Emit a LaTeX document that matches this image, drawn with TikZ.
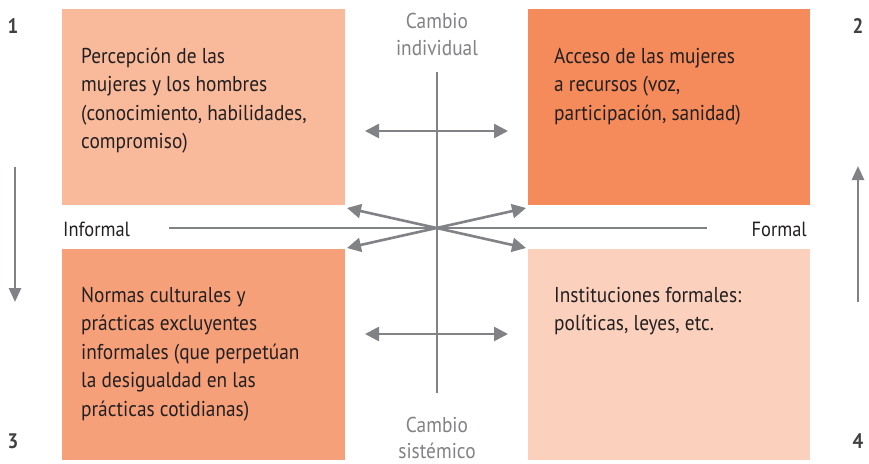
\documentclass[tikz,border=0pt]{standalone}
\usepackage{fontspec}
\setmainfont[FakeStretch=0.9]{PT Sans}
\usetikzlibrary{arrows.meta}
\definecolor{boxA}{RGB}{249,186,155}
\definecolor{boxB}{RGB}{245,139,90}
\definecolor{boxC}{RGB}{246,160,122}
\definecolor{boxD}{RGB}{251,208,188}
\definecolor{axisgray}{RGB}{128,130,133}
\definecolor{txt}{RGB}{35,31,32}
\definecolor{numgray}{RGB}{64,64,65}
\tikzset{
  boxtext/.style={inner sep=0pt, anchor=base west, align=left, text=txt, font=\fontsize{21.5}{28.6}\selectfont},
  axislbl/.style={inner sep=0pt, text=axisgray, font=\fontsize{21.5}{27}\selectfont},
  sidelbl/.style={inner sep=0pt, text=txt, font=\fontsize{20.5}{27}\selectfont},
  numlbl/.style={inner sep=0pt, anchor=base, text=numgray, font=\fontsize{21}{24}\selectfont\bfseries},
  axis/.style={draw=axisgray, line width=2.6pt},
  dblarrow/.style={axis, {Triangle[length=14pt,width=14pt]}-{Triangle[length=14pt,width=14pt]}},
  onearrow/.style={axis, -{Triangle[length=14pt,width=12pt]}},
}
\begin{document}
\begin{tikzpicture}[x=1pt,y=-1pt]
\useasboundingbox[fill=white] (0,0) rectangle (869,463);
% quadrants
\fill[boxA] (62,9) rectangle (345,205);
\fill[boxB] (528,9) rectangle (810,205);
\fill[boxC] (62,249) rectangle (345,460);
\fill[boxD] (528,249) rectangle (810,460);
% box texts (anchored at the baseline of the last line)
\node[boxtext] (t1) at (81,148.8) {Percepción de las\\mujeres y los hombres\\(conocimiento, habilidades,\\compromiso)};
\node[boxtext] (t2) at (554,120.2) {Acceso de las mujeres\\a recursos (voz,\\participación, sanidad)};
\node[boxtext] (t3) at (81,416.4) {Normas culturales y\\prácticas excluyentes\\informales (que perpetúan\\la desigualdad en las\\prácticas cotidianas)};
\node[boxtext] (t4) at (554,330.6) {Instituciones formales:\\políticas, leyes, etc.};
% axes
\coordinate (vtop) at (437,72);
\coordinate (vbot) at (437,393);
\coordinate (hl) at (169,228);
\coordinate (hr) at (707,228);
\draw[axis] (vtop) -- (vbot);
\draw[axis] (hl) -- (hr);
% horizontal double arrows
\coordinate (a1l) at (365,131);
\coordinate (a1r) at (508,131);
\coordinate (a2l) at (365,334);
\coordinate (a2r) at (508,334);
\draw[dblarrow] (a1l) -- (a1r);
\draw[dblarrow] (a2l) -- (a2r);
% diagonal arrows
\coordinate (dul) at (347,208);
\coordinate (dur) at (526,208);
\coordinate (dll) at (347,248);
\coordinate (dlr) at (526,248);
\draw[dblarrow] (dul) -- (dlr);
\draw[dblarrow] (dll) -- (dur);
% side arrows
\coordinate (ls) at (15,167);
\coordinate (le) at (15,302);
\coordinate (rs) at (858,302);
\coordinate (re) at (858,166);
\draw[onearrow] (ls) -- (le);
\draw[onearrow] (rs) -- (re);
% labels
\node[axislbl, anchor=base] (ci1) at (437,28) {Cambio};
\node[axislbl, anchor=base] (ci2) at (437,55) {individual};
\node[axislbl, anchor=base] (cs1) at (437,432) {Cambio};
\node[axislbl, anchor=base] (cs2) at (437,458) {sistémico};
\node[sidelbl, anchor=base west] (inf) at (63,236) {Informal};
\node[sidelbl, anchor=base east] (form) at (807,236) {Formal};
% numbers
\node[numlbl] (n1) at (13,33) {1};
\node[numlbl] (n2) at (858,33) {2};
\node[numlbl] (n3) at (13,448) {3};
\node[numlbl] (n4) at (858,448) {4};
\end{tikzpicture}
\end{document}
